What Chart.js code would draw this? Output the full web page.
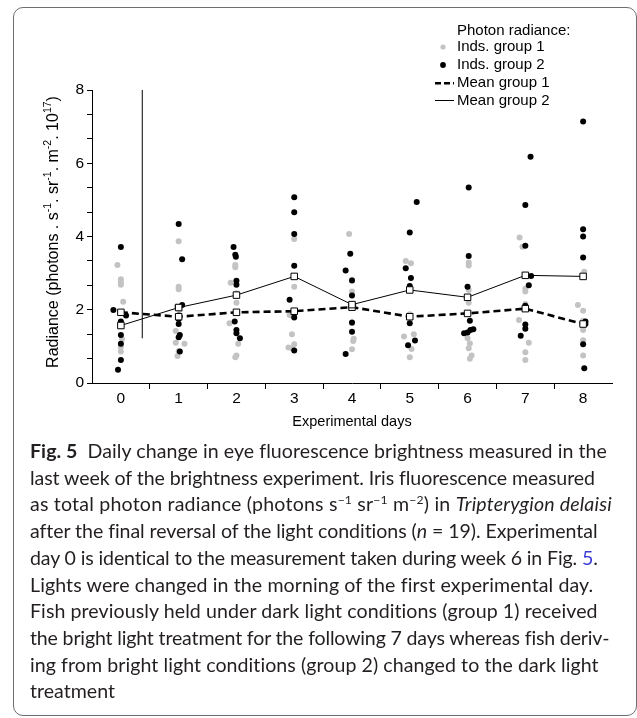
<!DOCTYPE html>
<html>
<head>
<meta charset="utf-8">
<script src="https://cdn.jsdelivr.net/npm/chart.js@4.4.0/dist/chart.umd.min.js"></script>
<style>
html,body{margin:0;padding:0;background:#fff;}
body{width:637px;height:718px;position:relative;overflow:hidden;}
#frame{position:absolute;left:13px;top:7px;width:624px;height:709px;box-sizing:border-box;border:1px solid #6e6e6e;border-radius:10px;}
#chartWrap{position:absolute;left:0;top:0;width:637px;height:440px;}
#caption{position:absolute;left:30px;top:438px;font-family:Lato,"Open Sans",sans-serif;font-size:19.5px;line-height:26.7px;color:#231f20;white-space:nowrap;}
#caption sup{font-size:0.62em;line-height:0;vertical-align:0.6em;}
#caption .lnk{color:#3b3bd6;}
#caption b{font-weight:700;}
</style>
</head>
<body>
<div id="frame"></div>
<div id="chartWrap"><canvas id="c" width="637" height="440"></canvas></div>
<div id="caption">
<div><span class="ln"><b>Fig. 5</b>&nbsp; Daily change in eye fluorescence brightness measured in the</span></div>
<div><span class="ln">last week of the brightness experiment. Iris fluorescence measured</span></div>
<div><span class="ln">as total photon radiance (photons s<sup>−1</sup> sr<sup>−1</sup> m<sup>−2</sup>) in <i>Tripterygion delaisi</i></span></div>
<div><span class="ln">after the final reversal of the light conditions (<i>n</i> = 19). Experimental</span></div>
<div><span class="ln">day 0 is identical to the measurement taken during week 6 in Fig. <span class="lnk">5</span>.</span></div>
<div><span class="ln">Lights were changed in the morning of the first experimental day.</span></div>
<div><span class="ln">Fish previously held under dark light conditions (group 1) received</span></div>
<div><span class="ln">the bright light treatment for the following 7 days whereas fish deriv-</span></div>
<div><span class="ln">ing from bright light conditions (group 2) changed to the dark light</span></div>
<div><span class="ln">treatment</span></div>
</div>
<script>
// ---- data ----
const days = [0, 1, 2, 3, 4, 5, 6, 7, 8];
const xTickValues = [-0.5, 0, 0.5, 1, 1.5, 2, 2.5, 3, 3.5, 4, 4.5, 5, 5.5, 6, 6.5, 7, 7.5, 8, 8.5];
const xTickLabels = ['', '0', '', '1', '', '2', '', '3', '', '4', '', '5', '', '6', '', '7', '', '8', ''];
const yTickValues = [0, 0.667, 1.333, 2, 2.667, 3.333, 4, 4.667, 5.333, 6, 6.667, 7.333, 8];
const yTickLabels = ['0', '', '', '2', '', '', '4', '', '', '6', '', '', '8'];

const meanGroup1 = [1.93, 1.81, 1.93, 1.96, 2.07, 1.81, 1.90, 2.03, 1.61];
const meanGroup2 = [1.57, 2.06, 2.40, 2.91, 2.14, 2.54, 2.34, 2.94, 2.91];

// individual fish, group 1 (grey) : position on day axis (with jitter) and radiance
const group1X = [
  -0.06, 0, 0, 0, 0.04, 0, 0.02, 0, 0,
  1, 1, 1, 0.97, 1.02, 0.95, 0.95, 1.1, 1, 0.98,
  1.98, 1.98, 1.9, 2, 2, 1.88, 2.03, 2, 1.98,
  3, 3, 3, 2.96, 2.92, 2.96, 3, 2.9, 2.96,
  3.95, 4, 4, 4.03, 4, 4.03, 4.02, 4,
  4.93, 5.02, 5, 4.9, 5.07, 5.03, 5,
  6.02, 6.02, 6.02, 6.02, 6, 6.04, 6.02, 6.07, 6.04,
  6.9, 6.95, 7, 7, 7, 6.89, 7.06, 7, 7,
  8.02, 7.91, 8, 8, 8, 8, 8
];
const group1Y = [
  3.22, 2.83, 2.75, 2.68, 2.22, 1.63, 1.20, 0.99, 0.86,
  3.87, 2.63, 2.56, 2.09, 2.00, 1.42, 1.10, 1.07, 0.87, 0.74,
  3.22, 3.16, 2.74, 2.45, 2.19, 1.63, 1.07, 0.75, 0.70,
  3.93, 2.92, 2.63, 1.84, 1.86, 1.33, 1.06, 0.97, 0.95,
  4.07, 2.82, 2.50, 2.12, 1.63, 1.21, 1.15, 0.92,
  3.33, 3.27, 1.88, 1.27, 1.33, 0.93, 0.70,
  3.29, 3.21, 2.54, 2.19, 1.22, 1.08, 0.95, 0.75, 0.66,
  3.97, 3.72, 2.57, 2.50, 2.16, 1.72, 1.10, 0.84, 0.63,
  3.04, 2.13, 1.97, 1.70, 1.45, 1.17, 0.75
];
// individual fish, group 2 (black)
const group2X = [
  0, -0.13, 0.01, 0.09, 0, 0, 0, 0, -0.05,
  1, 1.06, 1.06, 1, 1, 1, 1.02, 1, 1.02,
  1.95, 1.98, 1.99, 2, 2, 1.97, 2, 2, 2.06,
  3, 3, 3, 3, 2.92, 3, 3, 3,
  3.97, 3.89, 4, 4, 4, 4, 4, 3.89,
  5.12, 5, 4.93, 5.02, 5, 5, 5.09, 4.97,
  6.02, 6.02, 6, 6.04, 6.1, 6.05, 6, 5.94,
  7.09, 7, 7, 7.1, 7.06, 7, 7, 7, 6.92,
  8, 8, 8, 8, 8.04, 8.04, 8, 8.02
];
const group2Y = [
  3.71, 1.99, 1.93, 1.84, 1.68, 1.31, 1.07, 0.63, 0.36,
  4.34, 3.38, 2.13, 1.84, 1.75, 1.61, 1.31, 1.25, 0.86,
  3.71, 3.50, 3.45, 2.79, 2.68, 1.68, 1.45, 1.36, 1.22,
  5.07, 4.66, 4.07, 3.20, 2.27, 1.90, 1.79, 0.89,
  3.53, 3.07, 2.80, 2.39, 2.14, 1.65, 1.40, 0.79,
  4.94, 4.11, 3.13, 2.87, 2.65, 1.63, 1.16, 1.03,
  5.34, 3.47, 2.63, 1.70, 1.47, 1.45, 1.38, 1.36,
  6.18, 4.86, 3.75, 2.92, 2.67, 2.11, 1.60, 1.48, 1.29,
  7.14, 4.20, 4.00, 3.43, 1.68, 1.61, 1.06, 0.40
];
// vertical divider line (light change)
const dividerX = [0.37, 0.37];
const dividerY = [1.22, 8];

const legendTitle = 'Photon radiance:';
const legendLabels = ['Inds. group 1', 'Inds. group 2', 'Mean group 1', 'Mean group 2'];
const xTitle = 'Experimental days';
const yTitleParts = [['Radiance (photons . s', 0], ['-1', 1], ['. sr', 0], ['-1', 1], ['. m', 0], ['-2', 1], ['. 10', 0], ['17', 1], [')', 0]];

// ---- build chart ----
const FONT = '"Liberation Sans", Arial, Helvetica, sans-serif';
const GREY = '#c3c3c3';
const pts = (xs, ys) => xs.map((x, i) => ({x: x, y: ys[i]}));

const overlayPlugin = {
  id: 'overlay',
  afterDraw(chart) {
    const ctx = chart.ctx;
    ctx.save();
    // y axis title with superscripts
    const mainF = '16px ' + FONT, supF = '10.5px ' + FONT;
    let total = 0;
    yTitleParts.forEach(p => { ctx.font = p[1] ? supF : mainF; total += ctx.measureText(p[0]).width; });
    ctx.translate(51.5, 232);
    ctx.rotate(-Math.PI / 2);
    ctx.fillStyle = '#000';
    ctx.textAlign = 'left';
    ctx.textBaseline = 'alphabetic';
    let u = -total / 2;
    yTitleParts.forEach(p => {
      ctx.font = p[1] ? supF : mainF;
      ctx.fillText(p[0], u, p[1] ? -0.5 : 6);
      u += ctx.measureText(p[0]).width;
    });
    ctx.restore();

    // legend
    ctx.save();
    ctx.font = '15px ' + FONT;
    ctx.fillStyle = '#000';
    ctx.textAlign = 'left';
    ctx.textBaseline = 'middle';
    const tx = 457;
    const rows = [47, 65, 83.3, 100.5];
    ctx.fillText(legendTitle, tx, 31);
    legendLabels.forEach((t, i) => ctx.fillText(t, tx, rows[i]));
    ctx.fillStyle = GREY;
    ctx.beginPath(); ctx.arc(443, rows[0], 2.6, 0, Math.PI * 2); ctx.fill();
    ctx.fillStyle = '#000';
    ctx.beginPath(); ctx.arc(443, rows[1], 2.9, 0, Math.PI * 2); ctx.fill();
    ctx.strokeStyle = '#000';
    ctx.lineWidth = 2.5;
    ctx.setLineDash([6, 3]);
    ctx.beginPath(); ctx.moveTo(435, rows[2]); ctx.lineTo(454, rows[2]); ctx.stroke();
    ctx.setLineDash([]);
    ctx.lineWidth = 1;
    ctx.beginPath(); ctx.moveTo(435, rows[3]); ctx.lineTo(454, rows[3]); ctx.stroke();
    ctx.restore();
  }
};

new Chart(document.getElementById('c'), {
  type: 'line',
  data: {
    datasets: [
      {
        label: legendLabels[3],
        data: pts(days, meanGroup2),
        borderColor: '#000', borderWidth: 1, tension: 0,
        pointStyle: 'rect', pointRadius: 4.6, pointBackgroundColor: '#fff',
        pointBorderColor: '#000', pointBorderWidth: 1
      },
      {
        label: legendLabels[2],
        data: pts(days, meanGroup1),
        borderColor: '#000', borderWidth: 2.6, borderDash: [7, 4], tension: 0,
        pointStyle: 'rect', pointRadius: 4.6, pointBackgroundColor: '#fff',
        pointBorderColor: '#000', pointBorderWidth: 1
      },
      {
        label: 'divider',
        data: pts(dividerX, dividerY),
        borderColor: '#000', borderWidth: 1, pointRadius: 0
      },
      {
        label: legendLabels[1],
        data: pts(group2X, group2Y),
        showLine: false, pointRadius: 3, pointBorderWidth: 0,
        pointBackgroundColor: '#000', borderColor: '#000'
      },
      {
        label: legendLabels[0],
        data: pts(group1X, group1Y),
        showLine: false, pointRadius: 3, pointBorderWidth: 0,
        pointBackgroundColor: GREY, borderColor: GREY
      }
    ]
  },
  options: {
    responsive: false,
    animation: false,
    events: [],
    layout: {padding: {left: 0, right: 25, top: 90, bottom: 9}},
    plugins: {legend: {display: false}, tooltip: {enabled: false}},
    scales: {
      x: {
        type: 'linear', min: -0.5, max: 8.5,
        afterBuildTicks: s => { s.ticks = xTickValues.map(v => ({value: v})); },
        afterFit: s => { s.height = 48; },
        ticks: {
          autoSkip: false, maxRotation: 0, padding: 0,
          color: '#000', font: {family: FONT, size: 15.5},
          callback: (v, i) => xTickLabels[i]
        },
        grid: {
          drawOnChartArea: false, drawTicks: true, tickLength: 6, tickWidth: 1,
          color: c => (xTickLabels[c.index] === '' && c.index > 0 && c.index < xTickValues.length - 1) ? '#000' : 'rgba(0,0,0,0)',
          tickColor: c => (xTickLabels[c.index] === '' && c.index > 0 && c.index < xTickValues.length - 1) ? '#000' : 'rgba(0,0,0,0)'
        },
        border: {display: true, color: '#000', width: 1},
        title: {display: true, text: xTitle, color: '#000', font: {family: FONT, size: 14.5}, padding: {top: 0, bottom: 0}}
      },
      y: {
        type: 'linear', min: 0, max: 8,
        afterBuildTicks: s => { s.ticks = yTickValues.map(v => ({value: v})); },
        afterFit: s => { s.width = 92; },
        ticks: {
          autoSkip: false, padding: 3,
          color: '#000', font: {family: FONT, size: 15.5},
          callback: (v, i) => yTickLabels[i]
        },
        grid: {drawOnChartArea: false, drawTicks: true, tickLength: 5, tickWidth: 1, color: '#000', tickColor: '#000'},
        border: {display: true, color: '#000', width: 1}
      }
    }
  },
  plugins: [overlayPlugin]
});

// ---- caption line fitting ----
const targets = [577, 565, 582, 567, 568, 563, 568, 579, 569, 85];
function fitCaption() {
  const cap = document.getElementById('caption');
  const lines = Array.from(cap.querySelectorAll('.ln'));
  let tw = 0, mw = 0;
  lines.forEach((l, i) => { if (i < 9) { tw += targets[i]; mw += l.getBoundingClientRect().width; } });
  const fs = 19.5 * tw / mw;
  cap.style.fontSize = fs.toFixed(2) + 'px';
  lines.forEach((l, i) => {
    const w = l.getBoundingClientRect().width;
    const n = l.textContent.length;
    l.style.letterSpacing = ((targets[i] - w) / n).toFixed(3) + 'px';
  });
}
if (document.fonts && document.fonts.ready) { document.fonts.ready.then(fitCaption); } else { fitCaption(); }
</script>
</body>
</html>
